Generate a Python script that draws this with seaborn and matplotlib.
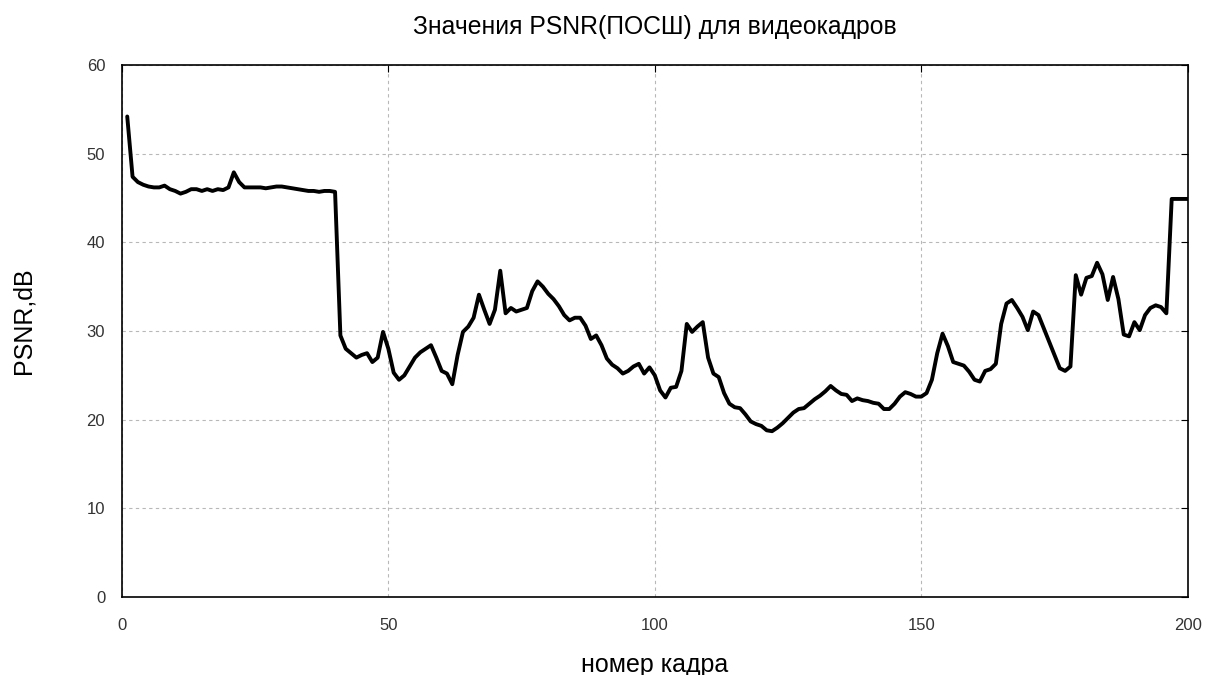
import numpy as np
import pandas as pd
import matplotlib
matplotlib.use("Agg")
import matplotlib.pyplot as plt
import seaborn as sns

frames = list(range(1, 201))
psnr = [
    54.2, 47.4, 46.8, 46.5, 46.3, 46.2, 46.2, 46.4, 46.0, 45.8,
    45.5, 45.7, 46.0, 46.0, 45.8, 46.0, 45.8, 46.0, 45.9, 46.2,
    47.9, 46.8, 46.2, 46.2, 46.2, 46.2, 46.1, 46.2, 46.3, 46.3,
    46.2, 46.1, 46.0, 45.9, 45.8, 45.8, 45.7, 45.8, 45.8, 45.7,
    29.5, 28.0, 27.5, 27.0, 27.3, 27.5, 26.5, 27.0, 29.9, 28.0,
    25.3, 24.5, 25.0, 26.0, 27.0, 27.6, 28.0, 28.4, 27.0, 25.5,
    25.2, 24.0, 27.3, 29.9, 30.5, 31.5, 34.1, 32.4, 30.8, 32.4,
    36.8, 32.0, 32.6, 32.2, 32.4, 32.6, 34.5, 35.6, 35.0, 34.2,
    33.6, 32.8, 31.8, 31.2, 31.5, 31.5, 30.6, 29.1, 29.5, 28.4,
    26.9, 26.2, 25.8, 25.2, 25.5, 26.0, 26.3, 25.2, 25.9, 25.0,
    23.3, 22.5, 23.6, 23.7, 25.5, 30.8, 29.9, 30.5, 31.0, 27.0,
    25.2, 24.8, 23.0, 21.8, 21.4, 21.3, 20.6, 19.8, 19.5, 19.3,
    18.8, 18.7, 19.1, 19.6, 20.2, 20.8, 21.2, 21.3, 21.8, 22.3,
    22.7, 23.2, 23.8, 23.3, 22.9, 22.8, 22.1, 22.4, 22.2, 22.1,
    21.9, 21.8, 21.2, 21.2, 21.8, 22.6, 23.1, 22.9, 22.6, 22.6,
    23.0, 24.5, 27.5, 29.7, 28.3, 26.5, 26.3, 26.1, 25.4, 24.5,
    24.3, 25.5, 25.7, 26.3, 30.8, 33.1, 33.5, 32.6, 31.6, 30.1,
    32.2, 31.8, 30.3, 28.8, 27.3, 25.8, 25.5, 26.0, 36.3, 34.1,
    36.0, 36.2, 37.7, 36.4, 33.5, 36.1, 33.6, 29.6, 29.4, 31.0,
    30.1, 31.8, 32.6, 32.9, 32.7, 32.0, 44.9, 44.9, 44.9, 44.9,
]
x_ticks = [0, 50, 100, 150, 200]
y_ticks = [0, 10, 20, 30, 40, 50, 60]

title = "Значения PSNR(ПОСШ) для видеокадров"
xlabel = "номер кадра"
ylabel = "PSNR,dB"

sns.set_style("white")
plt.rcParams['font.family'] = ['Liberation Sans', 'DejaVu Sans']

df = pd.DataFrame({"frame": frames, "psnr": psnr})

fig = plt.figure(figsize=(12.07, 6.75), dpi=100)
ax = fig.add_axes([0.101, 0.1156, 0.883, 0.788])
sns.lineplot(data=df, x="frame", y="psnr", ax=ax, color="black", linewidth=2.8)

ax.set_xlim(0, 200)
ax.set_ylim(0, 60)
ax.set_xticks(x_ticks)
ax.set_yticks(y_ticks)
ax.set_xticklabels([str(t) for t in x_ticks], fontsize=12, color='#333333')
ax.set_yticklabels([str(t) for t in y_ticks], fontsize=12, color='#333333')
ax.tick_params(axis='both', direction='in', length=5, width=0.8, color='black',
               top=True, right=True)
ax.tick_params(axis='x', pad=15)
ax.tick_params(axis='y', pad=12)
ax.grid(True, color='#b8b8b8', linestyle=(0, (3, 3)), linewidth=0.8)
for s in ax.spines.values():
    s.set_color('black')
    s.set_linewidth(1.2)
    s.set_visible(True)

ax.set_title(title, fontsize=17.8, y=1.058, va='baseline', pad=0, color='black')
ax.set_xlabel(xlabel, fontsize=18, va='baseline', color='black')
ax.xaxis.set_label_coords(0.5, -0.141)
ax.set_ylabel(ylabel, fontsize=18, va='center', color='black')
ax.yaxis.set_label_coords(-0.092, 0.52)

fig.savefig("out.png", dpi=100)
